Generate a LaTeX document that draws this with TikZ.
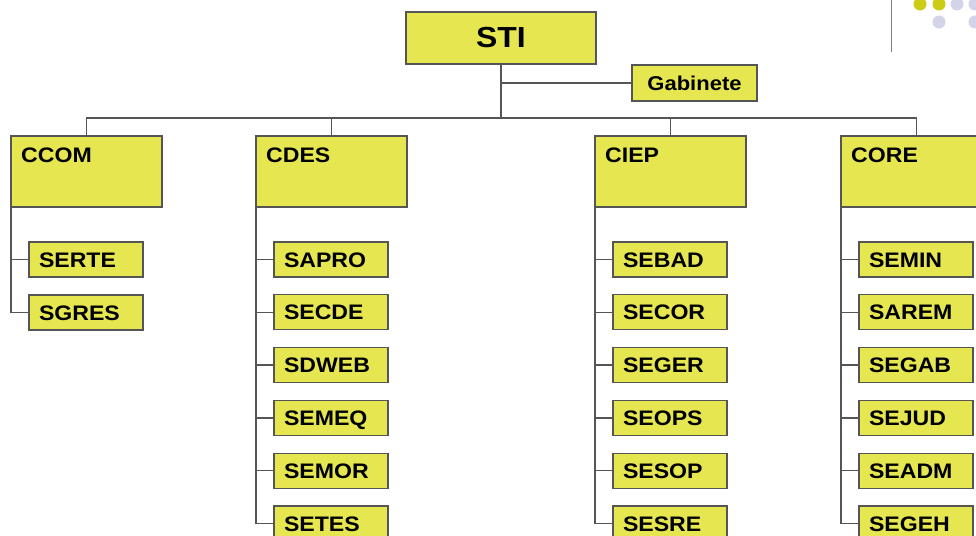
\documentclass[tikz,border=0pt]{standalone}
\usepackage{fontspec}
\setmainfont{Liberation Sans}[FakeStretch=1.1]
\definecolor{boxfill}{RGB}{230,230,80}
\definecolor{edgec}{RGB}{85,85,85}
\definecolor{dotY}{RGB}{204,204,20}
\definecolor{dotL}{RGB}{212,212,232}
\begin{document}
\begin{tikzpicture}[x=1pt,y=-1pt,
  box/.style={draw=edgec,line width=1.2pt,fill=boxfill,anchor=north west,inner sep=0pt,outer sep=0pt},
  unit/.style={box,minimum width=151pt,minimum height=71pt},
  sub/.style={box,text width=94pt,align=left,inner xsep=10pt,minimum height=35pt,text height=15pt,text depth=0pt,font=\bfseries\fontsize{21}{21}\selectfont},
  lbl/.style={font=\bfseries\fontsize{21}{21}\selectfont,anchor=base west,inner sep=0pt},
  conn/.style={draw=edgec,line width=1.5pt}]
\useasboundingbox (0,0) rectangle (976,535);
\clip (0,0) rectangle (976,535);
% decoration
\coordinate (dl1) at (891,0);
\coordinate (dl2) at (891,52);
\draw[gray,line width=1pt] (dl1) -- (dl2);
\fill[dotY] (920,4) circle (6.5pt);
\fill[dotY] (939,4) circle (6.5pt);
\fill[dotL] (957,4) circle (6.5pt);
\fill[dotL] (975,4) circle (6.5pt);
\fill[dotL] (939,22) circle (6.5pt);
\fill[dotL] (975,22) circle (6.5pt);
% top
\node[box,minimum width=190pt,minimum height=52pt,font=\bfseries\fontsize{29}{29}\selectfont] (sti) at (406,12) {STI};
\node[box,minimum width=125pt,minimum height=36pt,font=\bfseries\fontsize{20}{20}\selectfont] (gab) at (632,65) {Gabinete};
\coordinate (bus) at (0,118);
% units
\node[unit] (ccom) at (11,136) {};
\node[lbl] (ccomt) at (21,162) {CCOM};
\node[unit] (cdes) at (256,136) {};
\node[lbl] (cdest) at (266,162) {CDES};
\node[unit] (ciep) at (595,136) {};
\node[lbl] (ciept) at (605,162) {CIEP};
\node[unit] (core) at (841,136) {};
\node[lbl] (coret) at (851,162) {CORE};
% connectors top
\draw[conn] (sti.south) -- (sti.south |- bus);
\draw[conn] (gab.west) -- (gab.west -| sti.south);
\draw[conn] (ccom.north) -- (ccom.north |- bus) -- (core.north |- bus) -- (core.north);
\draw[conn] (cdes.north) -- (cdes.north |- bus);
\draw[conn] (ciep.north) -- (ciep.north |- bus);
% children
\foreach \n [count=\i from 0] in {SERTE,SGRES}{
  \node[sub] (ccom\i) at (29,{242+53*\i}) {\n};
  \draw[conn] (ccom.south west) |- (ccom\i.west);
}
\foreach \n [count=\i from 0] in {SAPRO,SECDE,SDWEB,SEMEQ,SEMOR,SETES}{
  \node[sub] (cdes\i) at (274,{242+52.8*\i}) {\n};
  \draw[conn] (cdes.south west) |- (cdes\i.west);
}
\foreach \n [count=\i from 0] in {SEBAD,SECOR,SEGER,SEOPS,SESOP,SESRE}{
  \node[sub] (ciep\i) at (613,{242+52.8*\i}) {\n};
  \draw[conn] (ciep.south west) |- (ciep\i.west);
}
\foreach \n [count=\i from 0] in {SEMIN,SAREM,SEGAB,SEJUD,SEADM,SEGEH}{
  \node[sub] (core\i) at (859,{242+52.8*\i}) {\n};
  \draw[conn] (core.south west) |- (core\i.west);
}
\end{tikzpicture}
\end{document}
